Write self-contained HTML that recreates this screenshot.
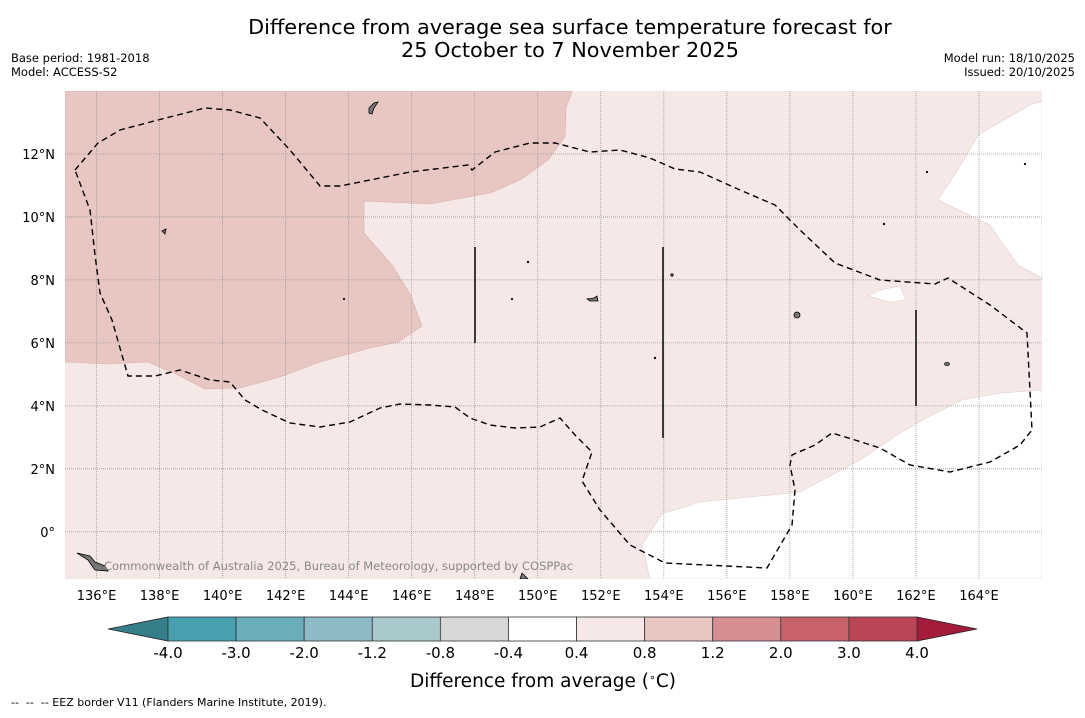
<!DOCTYPE html>
<html><head><meta charset="utf-8">
<style>
body{margin:0;background:#fff;width:1085px;height:713px;overflow:hidden;font-family:"Liberation Sans","DejaVu Sans",sans-serif;}
svg text{font-family:"DejaVu Sans","Liberation Sans",sans-serif;}
</style></head>
<body>
<svg id="chart" width="1085" height="713" viewBox="0 0 1085 713" xmlns="http://www.w3.org/2000/svg">
<text x="570" y="34" font-size="20.8" text-anchor="middle" fill="#000">Difference from average sea surface temperature forecast for</text>
<text x="570" y="57" font-size="20.8" text-anchor="middle" fill="#000">25 October to 7 November 2025</text>
<text x="11" y="62" font-size="11.5">Base period: 1981-2018</text>
<text x="11" y="76" font-size="11.5">Model: ACCESS-S2</text>
<text x="1075" y="62" font-size="11.5" text-anchor="end">Model run: 18/10/2025</text>
<text x="1075" y="76" font-size="11.5" text-anchor="end">Issued: 20/10/2025</text>
<defs><clipPath id="mapclip"><rect x="65" y="91" width="977" height="488"/></clipPath></defs>
<g id="map" clip-path="url(#mapclip)">
<rect x="65" y="91" width="977" height="488" fill="#f5e8e6"/>
<path fill="#e8c7c2" stroke="#d8b0aa" stroke-width="0.6" d="M65,91 L572,91 L566,108 L565,137 L548,160 L520,180 L490,193 L430,204 L364,201 L364,233 L392,265 L410,294 L422,326 L398,342 L370,348 L320,362 L280,377 L240,388 L205,389 L180,376 L148,362 L108,364 L65,362 Z"/>
<path fill="#fff" stroke="#e0cfcc" stroke-width="0.6" d="M1042,101 L1030,105 L978,135 L964,160 L938,200 L990,225 L1000,240 L1018,265 L1042,278 Z"/>
<path fill="#fff" stroke="#e0cfcc" stroke-width="0.6" d="M868,296 L880,290 L900,286 L906,300 L890,302 Z"/>
<path fill="#fff" stroke="#e0cfcc" stroke-width="0.6" d="M1042,390 L1000,393 L962,400 L930,416 L900,433 L860,460 L800,492 L740,498 L700,502 L662,514 L642,545 L650,579 L1042,579 Z"/>
<g id="grid"></g>
<path fill="none" stroke="#000" stroke-width="1.4" stroke-dasharray="6,4" d="M75,170 L98,143 L120,130 L158,120 L205,108 L230,110 L260,118 L290,150 L320,186 L340,186 L410,172 L468,165 L472,170 L495,152 L530,143 L555,143 L590,152 L620,150 L650,158 L675,169 L700,172 L740,190 L775,205 L800,230 L835,263 L880,280 L935,284 L948,278 L990,305 L1027,333 L1032,430 L1020,445 L990,462 L950,472 L910,465 L880,448 L855,440 L832,433 L815,445 L792,455 L790,465 L795,490 L792,525 L767,568 L665,563 L630,545 L600,510 L582,481 L592,452 L575,435 L560,418 L540,427 L515,428 L490,425 L470,418 L455,407 L430,405 L400,404 L380,408 L350,422 L320,427 L290,423 L262,410 L245,400 L230,382 L210,380 L180,370 L155,376 L128,376 L112,320 L100,293 L95,255 L90,210 Z"/>
<line x1="475" y1="247" x2="475" y2="343" stroke="#111" stroke-width="1.6"/>
<line x1="663" y1="247" x2="663" y2="438" stroke="#111" stroke-width="1.6"/>
<line x1="916" y1="310" x2="916" y2="406" stroke="#111" stroke-width="1.6"/>
<g fill="#777" stroke="#000" stroke-width="0.8">
<path d="M369,108 L374,103 L378,102 L374,108 L372,114 L369,113 Z"/>
<path d="M162,231 L166,229 L165,234 Z"/>
<path d="M587,299 L594,298 L597,296 L598,301 L590,301 Z"/>
<ellipse cx="797" cy="315" rx="3" ry="3"/>
<ellipse cx="947" cy="364" rx="2.5" ry="1.5"/>
<path d="M77,553 L90,556 L95,562 L105,566 L108,571 L95,570 L88,560 Z"/>
<path d="M522,573 L528,579 L520,579 Z"/>
<circle cx="672" cy="275" r="1.2"/><circle cx="528" cy="262" r="0.8"/><circle cx="884" cy="224" r="0.8"/>
<circle cx="655" cy="358" r="0.8"/><circle cx="344" cy="299" r="0.7"/><circle cx="512" cy="299" r="0.7"/>
<circle cx="1025" cy="164" r="0.7"/><circle cx="927" cy="172" r="0.7"/>
</g>
<text x="104" y="570" font-size="11.5" fill="#888">Commonwealth of Australia 2025, Bureau of Meteorology, supported by COSPPac</text>
</g>
<g id="axes"></g>
<g id="colorbar"></g>
<text x="543" y="687" font-size="18.5" text-anchor="middle">Difference from average (<tspan font-size="11" dy="-6">∘</tspan><tspan dy="6">C)</tspan></text>
<text x="11" y="706" font-size="11" xml:space="preserve">--  --  -- EEZ border V11 (Flanders Marine Institute, 2019).</text>
</svg>
<script>
const lonTicks=[136,138,140,142,144,146,148,150,152,154,156,158,160,162,164];
const latTicks=[0,2,4,6,8,10,12];
const cbLevels=["-4.0","-3.0","-2.0","-1.2","-0.8","-0.4","0.4","0.8","1.2","2.0","3.0","4.0"];
const cbColors=["#479fb0","#6aadbb","#8cbac5","#aac9cd","#d5d7d8","#ffffff","#f5e8e6","#e8c6c1","#d68e93","#c7626d","#bb4556"];
const cbLowColor="#357f8a";
const cbHighColor="#a51c3a";
const NS="http://www.w3.org/2000/svg";
const X0=65,X1=1042,Y0=91,Y1=579,LON0=135,LON1=166,LAT0=-1.5,LAT1=14;
const xs=lon=>X0+(lon-LON0)/(LON1-LON0)*(X1-X0);
const ys=lat=>Y1-(lat-LAT0)/(LAT1-LAT0)*(Y1-Y0);
function mk(tag,attrs,parent){const e=document.createElementNS(NS,tag);for(const k in attrs)e.setAttribute(k,attrs[k]);parent.appendChild(e);return e;}
const grid=document.getElementById('grid'),axes=document.getElementById('axes'),cb=document.getElementById('colorbar');
lonTicks.forEach(l=>{const x=xs(l);
 const g=mk('line',{x1:x,x2:x,y1:Y0,y2:Y1,stroke:'#999','stroke-width':0.8,'stroke-dasharray':'1,1'},grid);
 
 
 const t=mk('text',{x:x,y:600,'font-size':13,'text-anchor':'middle'},axes);t.textContent=l+'°E';
 
 
});
latTicks.forEach(l=>{const y=ys(l);
 const g=mk('line',{x1:X0,x2:X1,y1:y,y2:y,stroke:'#999','stroke-width':0.8,'stroke-dasharray':'1,1'},grid);
 
 
 const t=mk('text',{x:55,y:y+5,'font-size':13,'text-anchor':'end'},axes);t.textContent=l===0?'0°':l+'°N';
 
 
});
const CB0=168,CB1=917,CBY=617,CBH=24,n=cbColors.length,w=(CB1-CB0)/n;
const lo=mk('polygon',{points:`108,${CBY+CBH/2} ${CB0},${CBY} ${CB0},${CBY+CBH}`,fill:cbLowColor,stroke:'#222','stroke-width':0.8},cb);


const hi=mk('polygon',{points:`${CB1},${CBY} 977,${CBY+CBH/2} ${CB1},${CBY+CBH}`,fill:cbHighColor,stroke:'#222','stroke-width':0.8},cb);


cbColors.forEach((c,i)=>{const r=mk('rect',{x:CB0+i*w,y:CBY,width:w,height:CBH,fill:c,stroke:'#333','stroke-width':0.8},cb);
 
 
});
cbLevels.forEach((v,i)=>{const t=mk('text',{x:CB0+i*w,y:658,'font-size':15,'text-anchor':'middle'},cb);t.textContent=v;
 
 
});
</script>
</body></html>
